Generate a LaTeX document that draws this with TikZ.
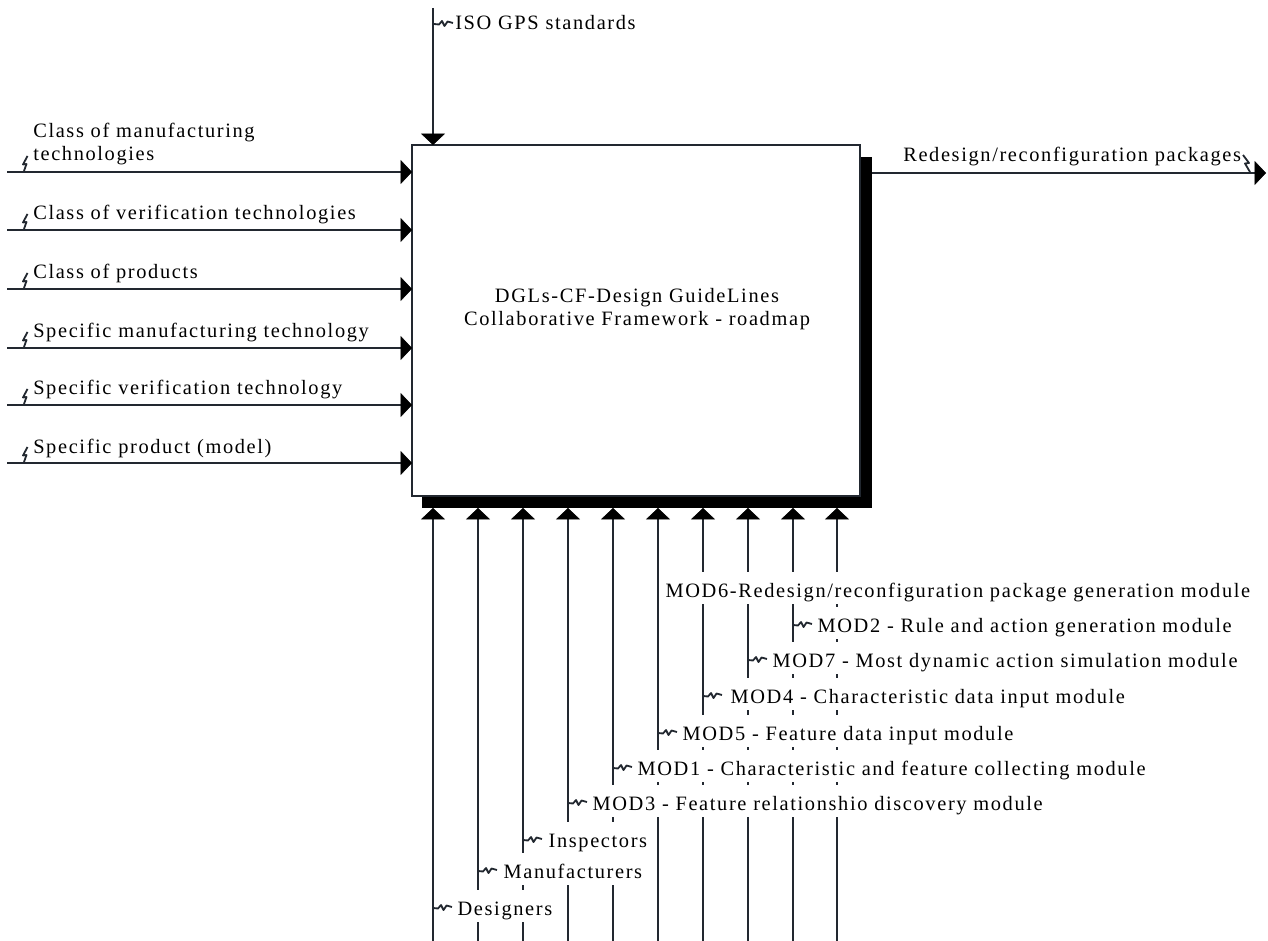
\documentclass[tikz,border=0pt]{standalone}
\usepackage{fontspec}
\setmainfont{Liberation Serif}[LetterSpace=8]
\usetikzlibrary{arrows.meta}
\definecolor{linec}{RGB}{34,40,48}
\tikzset{
  conn/.style={draw=linec, line width=1.6pt},
  arr/.style={conn, -{Triangle[length=8.5pt,width=18pt,line width=0.4pt,color=black]}},
  sq/.style={draw=linec, line width=1.35pt, line join=round},
  txt/.style={inner sep=0pt, anchor=base west},
  blbl/.style={anchor=base west, fill=white, inner xsep=1pt, inner ysep=0pt, text height=19pt, text depth=5.5pt},
  sqh/.pic={\draw[sq] (0,0) -- (5,0.5) -- (8,-3) -- (10.5,2) -- (13.5,-2.5) -- (19,-1);},
  sqv/.pic={\draw[sq] (0,0) -- (2.5,-7) -- (-1,-6.5) -- (3.5,-15);},
}
\begin{document}
\begin{tikzpicture}[x=0.75pt,y=-0.75pt, font=\fontsize{15.3}{17.25}\selectfont]
\useasboundingbox (0,0) rectangle (1268,941);
% shadow and box
\node[fill=black, inner sep=0pt, outer sep=0pt, minimum width=337.5pt, minimum height=263.25pt] (shadow) at (647,332.5) {};
\node[draw=linec, line width=1.2pt, fill=white, inner sep=0pt, outer sep=0pt, minimum width=336pt, minimum height=263.25pt] (box) at (636,320.5) {};
\node[inner sep=0pt, align=center, anchor=base] (title) at (637,326) {DGLs-CF-Design GuideLines\\Collaborative Framework - roadmap};

% top control
\coordinate (t) at (433,8);
\draw[arr] (t) -- (t |- box.north);
\node[txt] (iso) at (455,30) {ISO GPS standards};
\pic at (434,24) {sqh};

% output
\coordinate (o) at (1266,173);
\draw[arr] (shadow.east |- o) -- (o);
\node[txt] (out) at (903,162) {Redesign/reconfiguration packages};
\draw[sq] (1243,155) -- (1249,163) -- (1245,163.5) -- (1250,172);

% inputs
\foreach \n/\y in {1/172,2/230,3/289,4/348,5/405,6/463}{
  \coordinate (i\n) at (7,\y);
  \draw[arr] (i\n) -- (i\n -| box.west);
  \pic at (24,\y-1) {sqv};
}
\node[txt, align=left] (l1) at (33,161) {Class of manufacturing\\technologies};
\node[txt] (l2) at (33,220) {Class of verification technologies};
\node[txt] (l3) at (33,279) {Class of products};
\node[txt] (l4) at (33,338) {Specific manufacturing technology};
\node[txt] (l5) at (33,395) {Specific verification technology};
\node[txt] (l6) at (33,453) {Specific product (model)};

% mechanisms
\foreach \n/\x in {1/433,2/478,3/523,4/568,5/613,6/658,7/703,8/748,9/793,10/837}{
  \coordinate (b\n) at (\x,941);
  \draw[arr] (b\n) -- (b\n |- shadow.south);
}
\node[blbl] (m6) at (664,597) {MOD6-Redesign/reconfiguration package generation module};
\node[blbl] (m2) at (816,632) {MOD2 - Rule and action generation module};
\node[blbl] (m7) at (771,667) {MOD7 - Most dynamic action simulation module};
\node[blbl] (m4) at (729,703) {MOD4 - Characteristic data input module};
\node[blbl] (m5) at (681,740) {MOD5 - Feature data input module};
\node[blbl] (m1) at (636,775) {MOD1 - Characteristic and feature collecting module};
\node[blbl] (m3) at (591,810) {MOD3 - Feature relationshio discovery module};
\node[blbl] (ins) at (547,847) {Inspectors};
\node[blbl] (man) at (502,878) {Manufacturers};
\node[blbl] (des) at (456,915) {Designers};
\foreach \x/\y in {793/625,748/660,703/696,658/733,613/768,568/803,523/840,478/871,433/908}{
  \pic at (\x,\y) {sqh};
}
\end{tikzpicture}
\end{document}
